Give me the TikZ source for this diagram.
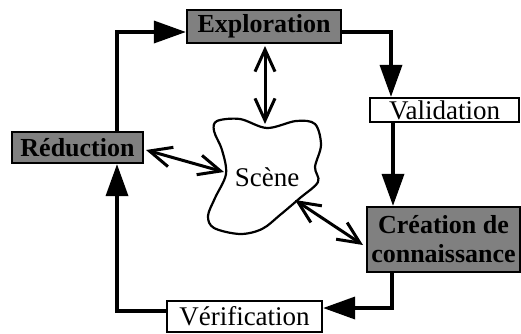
\documentclass[tikz,border=0pt]{standalone}
\usepackage{fontspec}
\newfontfamily\lserif{Liberation Serif}
\usetikzlibrary{arrows.meta}
\definecolor{boxgray}{HTML}{808080}
\begin{document}
\begin{tikzpicture}[x=1pt,y=-1pt,
  every node/.style={font=\lserif\fontsize{27}{30}\selectfont},
  graybox/.style={draw=black,line width=2.2pt,fill=boxgray,inner sep=0pt,font=\lserif\fontsize{26}{30}\selectfont\bfseries,align=center},
  whitebox/.style={draw=black,line width=2.2pt,fill=white,inner sep=0pt},
  loopline/.style={line width=3.5pt,-{Triangle[length=32pt,width=22pt]}},
  twoway/.style={line width=3pt,{Straight Barb[length=22pt,width=20pt]}-{Straight Barb[length=22pt,width=20pt]}}
]
\useasboundingbox (0,0) rectangle (521,333);

\node[graybox,minimum width=154pt,minimum height=33pt] (expl) at (264,26.5) {Exploration};
\node[whitebox,minimum width=149pt,minimum height=24pt] (valid) at (444.5,110) {Validation};
\node[graybox,minimum width=131pt,minimum height=31pt] (red) at (77.5,147.5) {Réduction};
\node[graybox,minimum width=153pt,minimum height=65pt,font=\lserif\fontsize{26}{29}\selectfont\bfseries] (crea) at (443.5,239.5) {Création de\\connaissance};
\node[whitebox,minimum width=155pt,minimum height=31pt] (verif) at (244.5,316.5) {Vérification};

% scene blob
\draw[line width=2.2pt,fill=white] plot[smooth cycle,tension=0.55] coordinates {
 (217,121) (240,119) (267,128) (296,121) (315,124) (321,145) (315,167) (318,182)
 (300,198) (280,215) (262,229) (240,234) (214,228) (208,216) (215,198) (226,174)
 (222,150) (214,131)};
\node (scene) at (267,177) {Scène};
\coordinate (scTop) at (265,124);
\coordinate (scLeft) at (224,172);
\coordinate (scBR) at (295,200);
\coordinate (crIn) at (363,245);
\coordinate (exIn) at (265,46);
\coordinate (reIn) at (146,150);

% main loop
\coordinate (c1) at (117,32);
\coordinate (c2) at (391,32);
\coordinate (c3) at (392,308);
\coordinate (c4) at (117,311);
\draw[loopline] (red.north -| c1) -- (c1) -- (expl.west |- c1);
\draw[loopline] (expl.east |- c2) -- (c2) -- (valid.north -| c2);
\draw[loopline] (valid.south -| 393,0) -- (crea.north -| 393,0);
\draw[loopline] (crea.south -| c3) -- (c3) -- (verif.east |- c3);
\draw[loopline] (verif.west |- c4) -- (c4) -- (red.south -| c4);

% two-way arrows
\draw[twoway] (exIn) -- (scTop);
\draw[twoway] (reIn) -- (scLeft);
\draw[twoway] (scBR) -- (crIn);
\end{tikzpicture}
\end{document}
